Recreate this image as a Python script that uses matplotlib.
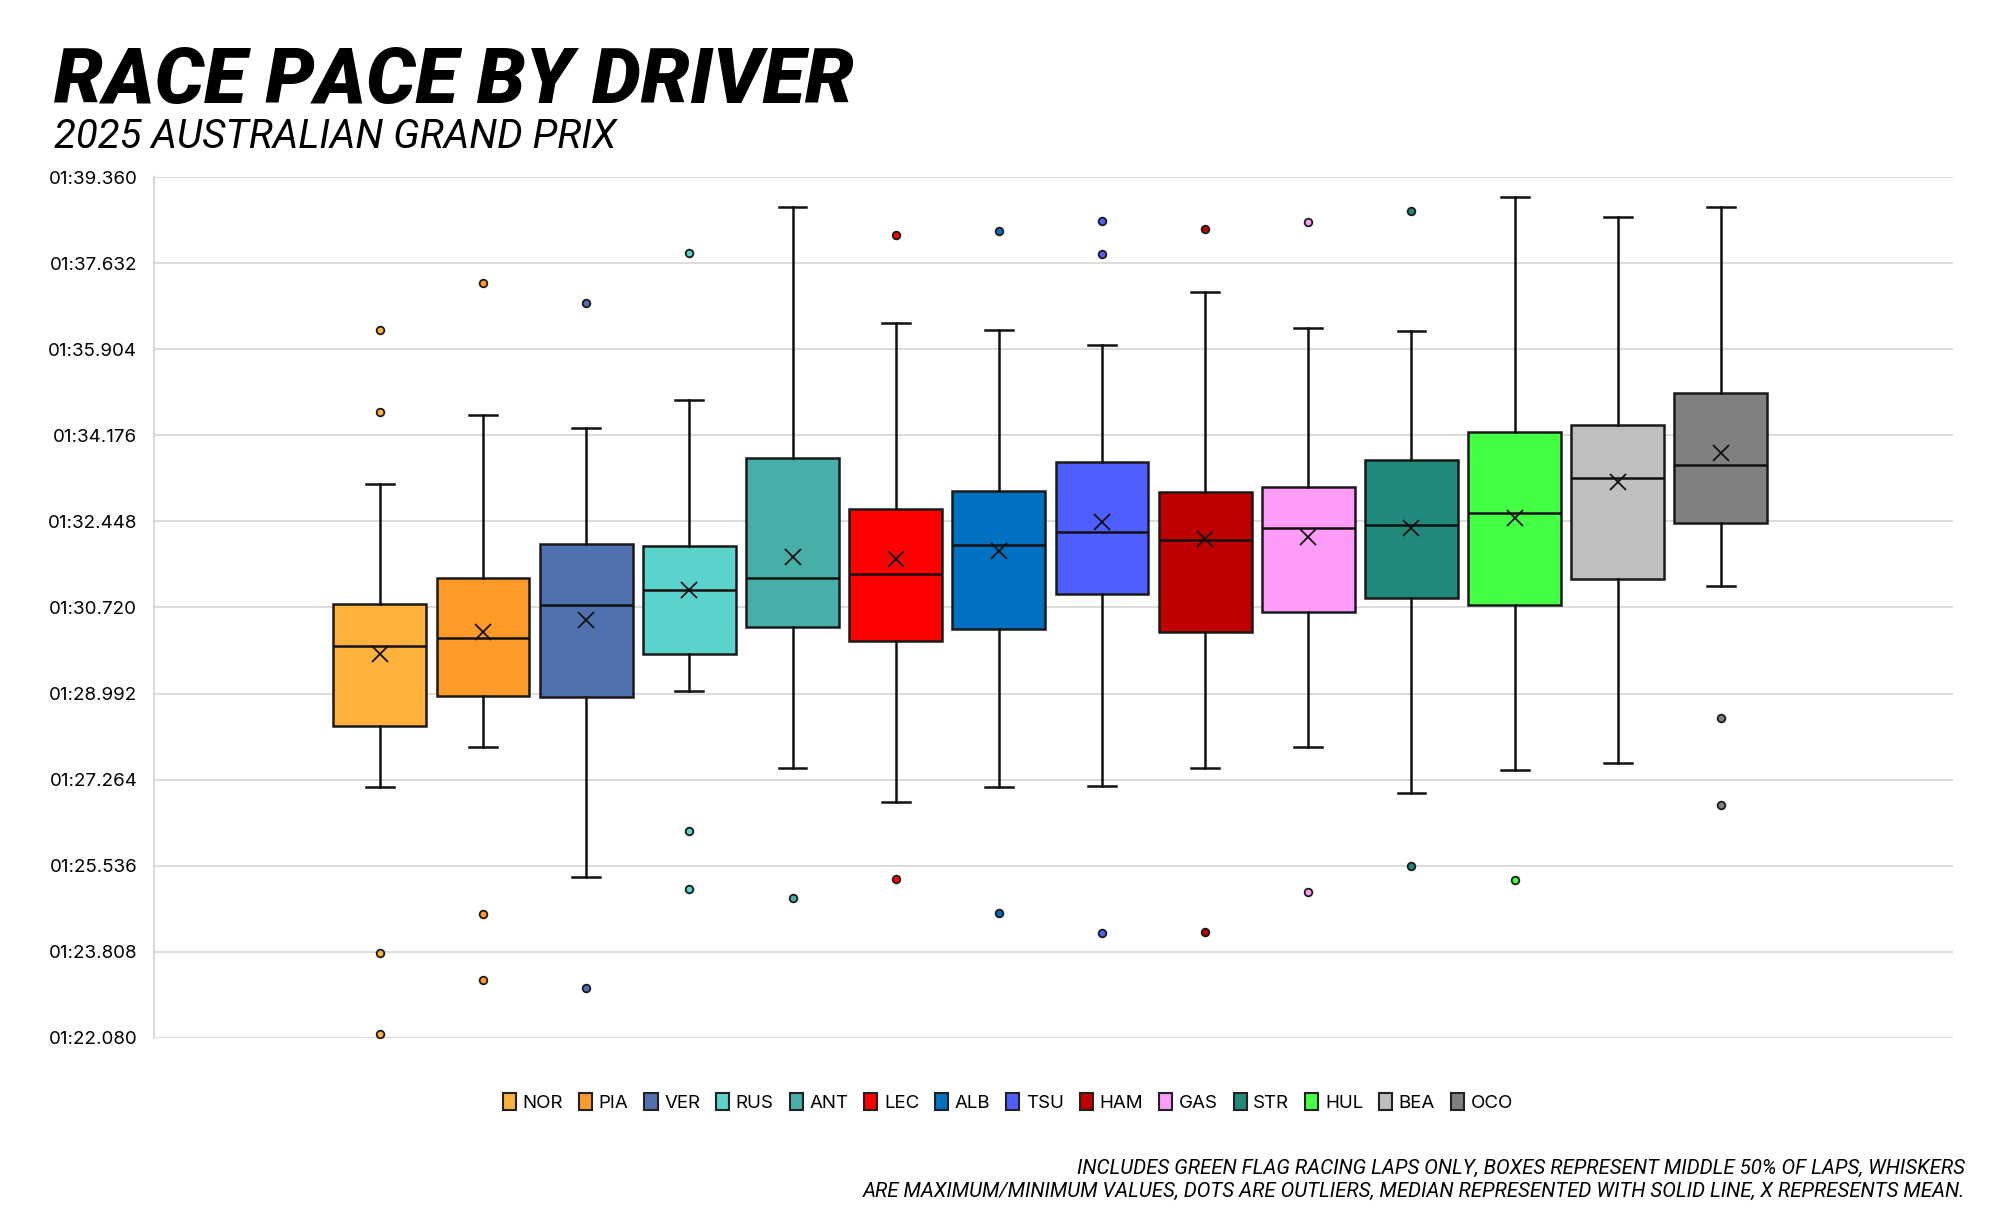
import matplotlib
matplotlib.use("Agg")
import matplotlib.pyplot as plt
from matplotlib.patches import Patch

# lap times in seconds
drivers = ["NOR", "PIA", "VER", "RUS", "ANT", "LEC", "ALB", "TSU", "HAM", "GAS", "STR", "HUL", "BEA", "OCO"]
colors = ["#FFB13B", "#FD9A28", "#5071B0", "#59D3CB", "#48AFA8", "#FF0000", "#0070C0",
          "#4F5EFF", "#C00000", "#FF9CF7", "#21897A", "#45FF45", "#BFBFBF", "#808080"]
whis_hi = [93.196, 94.579, 94.313, 94.878, 98.749, 96.426, 96.293, 95.984, 97.057, 96.326, 96.260, 98.960, 98.561, 98.760]
q3 = [90.784, 91.315, 91.990, 91.957, 93.716, 92.698, 93.052, 93.649, 93.030, 93.129, 93.682, 94.247, 94.380, 95.021]
median = [89.943, 90.098, 90.762, 91.071, 91.315, 91.392, 91.968, 92.244, 92.078, 92.322, 92.366, 92.610, 93.328, 93.583]
mean = [89.788, 90.220, 90.463, 91.071, 91.735, 91.702, 91.846, 92.443, 92.089, 92.145, 92.311, 92.521, 93.229, 93.815]
q1 = [88.350, 88.936, 88.914, 89.777, 90.330, 90.043, 90.297, 90.983, 90.231, 90.629, 90.906, 90.773, 91.293, 92.421]
whis_lo = [87.122, 87.918, 85.308, 89.036, 87.498, 86.812, 87.122, 87.144, 87.498, 87.930, 87.000, 87.465, 87.609, 91.149]
outliers = [
    [96.293, 94.645, 83.792, 82.155],
    [97.234, 84.578, 83.239],
    [96.835, 83.073],
    [97.831, 86.237, 85.064],
    [84.898],
    [98.196, 85.263],
    [98.285, 84.589],
    [98.473, 97.809, 84.190],
    [98.307, 84.212],
    [98.451, 85.009],
    [98.672, 85.529],
    [85.241],
    [],
    [88.505, 86.757],
]
yticks = [82.080 + 1.728 * i for i in range(11)]


def fmt_lap(t):
    m = int(t // 60)
    s = t - m * 60
    return "%02d:%06.3f" % (m, s)


stats = []
for i, d in enumerate(drivers):
    stats.append({"label": d, "med": median[i], "q1": q1[i], "q3": q3[i],
                  "whislo": whis_lo[i], "whishi": whis_hi[i], "mean": mean[i],
                  "fliers": outliers[i]})

fig = plt.figure(figsize=(20, 12.15), dpi=100)
ax = fig.add_axes([0.077, 0.1457, 0.8995, 0.7086])

bp = ax.bxp(stats, positions=range(len(drivers)), widths=0.9, capwidths=0.27,
            patch_artist=True, showmeans=True, showfliers=True,
            boxprops=dict(edgecolor="#1a1a1a", linewidth=1.8),
            medianprops=dict(color="#111111", linewidth=1.8),
            whiskerprops=dict(color="#111111", linewidth=1.8),
            capprops=dict(color="#111111", linewidth=1.8),
            meanprops=dict(marker="x", markeredgecolor="#111111", markersize=11, markeredgewidth=1.3),
            zorder=3)
for box, c in zip(bp["boxes"], colors):
    box.set_facecolor(c)
for fl, c in zip(bp["fliers"], colors):
    fl.set_marker("o")
    fl.set_markerfacecolor(c)
    fl.set_markeredgecolor("#1a1a1a")
    fl.set_markeredgewidth(1.3)
    fl.set_markersize(5.5)

ax.set_xlim(-2.19, 15.25)
ax.set_ylim(82.08, 99.36)
ax.set_yticks(yticks)
ax.set_yticklabels([fmt_lap(t) for t in yticks], fontsize=13.5, family=["Inter", "DejaVu Sans"])
ax.set_xticks([])
ax.tick_params(axis="y", length=0, pad=12)
ax.grid(axis="y", color="#d9d9d9", linewidth=1.3, zorder=0)
ax.set_axisbelow(True)
for s in ["top", "right", "bottom"]:
    ax.spines[s].set_visible(False)
ax.spines["left"].set_color("#d9d9d9")
ax.spines["left"].set_linewidth(1.5)

fig.text(0.027, 0.9155, "RACE PACE BY DRIVER", fontsize=56, fontweight="black", style="italic",
         family=["Roboto", "DejaVu Sans"], ha="left", va="baseline")
fig.text(0.027, 0.878, "2025 AUSTRALIAN GRAND PRIX", fontsize=29, fontweight="normal", style="italic",
         family=["Roboto", "DejaVu Sans"], ha="left", va="baseline")

handles = [Patch(facecolor=c, edgecolor="#222222", linewidth=1.5, label=d) for d, c in zip(drivers, colors)]
fig.legend(handles=handles, loc="center", bbox_to_anchor=(0.504, 0.0925), ncol=len(drivers),
           frameon=False, handlelength=0.7, handleheight=1.0, handletextpad=0.35,
           columnspacing=0.85, prop={"family": ["Inter", "DejaVu Sans"], "size": 13.5})

note1 = "INCLUDES GREEN FLAG RACING LAPS ONLY, BOXES REPRESENT MIDDLE 50% OF LAPS, WHISKERS"
note2 = "ARE MAXIMUM/MINIMUM VALUES, DOTS ARE OUTLIERS, MEDIAN REPRESENTED WITH SOLID LINE, X REPRESENTS MEAN."
fig.text(0.9825, 0.0335, note1, fontsize=14.8, style="italic", ha="right", va="baseline",
         family=["Roboto", "DejaVu Sans"])
fig.text(0.9825, 0.0148, note2, fontsize=14.8, style="italic", ha="right", va="baseline",
         family=["Roboto", "DejaVu Sans"])

fig.savefig("out.png", dpi=100, facecolor="white")
